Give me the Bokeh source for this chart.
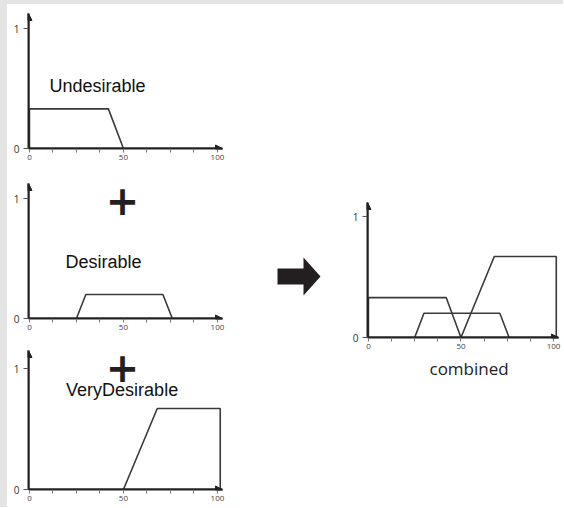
from bokeh.plotting import figure
from bokeh.models import Range1d, FixedTicker, Label, Arrow, NormalHead, Title
from bokeh.layouts import row, column
from bokeh.embed import file_html
from bokeh.resources import INLINE

# ---- data -------------------------------------------------------------
undesirable_x = [0, 0, 42, 50]
undesirable_y = [0, 0.33, 0.33, 0]
desirable_x = [25, 30, 71, 76]
desirable_y = [0, 0.2, 0.2, 0]
very_x = [50, 68, 101.5, 101.5]
very_y = [0, 0.67, 0.67, 0]

x_ticks = [0, 12.5, 25, 37.5, 50, 62.5, 75, 87.5, 100]
x_tick_labels = {0: "0", 50: "50", 100: "100"}
y_ticks = [0, 1]
y_tick_labels = {0: "0", 1: "1"}

AX = "#222222"
LINE = "#3a3a3a"
LINE_W = 1.6
X0 = -0.5
X1 = 102.7


def style(p, y_end):
    p.toolbar_location = None
    p.outline_line_color = None
    p.xgrid.visible = False
    p.ygrid.visible = False
    p.background_fill_color = "white"
    p.border_fill_color = "white"
    xa = p.xaxis[0]
    ya = p.yaxis[0]
    xa.ticker = FixedTicker(ticks=x_ticks)
    xa.major_label_overrides = {t: x_tick_labels.get(t, "") for t in x_ticks}
    xa.axis_line_width = 2
    xa.axis_line_color = AX
    xa.major_tick_in = 0
    xa.major_tick_out = 4
    xa.major_tick_line_color = "#777777"
    xa.minor_tick_line_color = None
    xa.major_label_text_font = "Open Sans"
    xa.major_label_text_font_size = "8px"
    xa.major_label_text_color = "#444444"
    xa.major_label_standoff = 2
    ya.ticker = FixedTicker(ticks=y_ticks)
    ya.major_label_overrides = y_tick_labels
    ya.axis_line_width = 2
    ya.axis_line_color = AX
    ya.major_tick_in = 0
    ya.major_tick_out = 5
    ya.major_tick_line_color = "#555555"
    ya.minor_tick_line_color = None
    ya.major_label_text_font = "Open Sans"
    ya.major_label_text_font_size = "10px"
    ya.major_label_text_color = "#333333"
    ya.major_label_standoff = 4
    # arrow heads at the axis ends
    p.add_layout(Arrow(end=NormalHead(size=7, fill_color=AX, line_color=AX),
                       x_start=X0, y_start=0, x_end=X0, y_end=y_end,
                       line_color=AX, line_width=2))
    p.add_layout(Arrow(end=NormalHead(size=7, fill_color=AX, line_color=AX),
                       x_start=X0, y_start=0, x_end=X1, y_end=0,
                       line_color=AX, line_width=2))


def small(height, btop, bbot, y_end):
    p = figure(width=231, height=height, output_backend="svg", toolbar_location=None,
               x_range=Range1d(X0, X1), y_range=Range1d(0, y_end),
               min_border_left=21, min_border_right=16,
               min_border_top=btop, min_border_bottom=bbot)
    style(p, y_end)
    return p


def label(p, x, y, text, size="18px", font="Liberation Sans", color="#111111", style_="normal"):
    p.add_layout(Label(x=x, y=y, text=text, text_align="center", text_baseline="middle",
                       text_font=font, text_font_size=size, text_color=color,
                       text_font_style=style_))


# ---- left column ------------------------------------------------------
p1 = small(166, 9, 22, 1.125)
p1.line(undesirable_x, undesirable_y, line_color=LINE, line_width=LINE_W)
label(p1, 36.2, 0.517, "Undesirable")

p2 = small(165, 13, 17, 1.125)
p2.line(desirable_x, desirable_y, line_color=LINE, line_width=LINE_W)
label(p2, 39.4, 0.467, "Desirable")
label(p2, 49.5, 0.99, "+", size="40px", font="DejaVu Sans", color="#231f20", style_="bold")

p3 = small(172, 15, 18, 1.149)
p3.line(very_x, very_y, line_color=LINE, line_width=LINE_W)
label(p3, 49.3, 0.82, "VeryDesirable")
label(p3, 49.5, 1.01, "+", size="40px", font="DejaVu Sans", color="#231f20", style_="bold")

left = column(p1, p2, p3, spacing=0, styles={"background-color": "white"})

# ---- middle arrow -----------------------------------------------------
mid_w, mid_h = 88, 503
arrow_start, shaft_end, arrow_tip = 39, 65, 82
arrow_cy, shaft_half, head_half = 231, 8, 19
pm = figure(width=mid_w, height=mid_h, output_backend="svg", toolbar_location=None,
            x_range=Range1d(0, mid_w), y_range=Range1d(0, mid_h),
            min_border_left=0, min_border_right=0, min_border_top=0, min_border_bottom=0,
            x_axis_location=None, y_axis_location=None)
pm.grid.visible = False
pm.outline_line_color = None
pm.background_fill_color = "white"
pm.border_fill_color = "white"
pm.patch([arrow_start, shaft_end, shaft_end, arrow_tip, shaft_end, shaft_end, arrow_start],
         [arrow_cy - shaft_half, arrow_cy - shaft_half, arrow_cy - head_half, arrow_cy,
          arrow_cy + head_half, arrow_cy + shaft_half, arrow_cy + shaft_half],
         fill_color="#231f20", line_color=None)

# ---- combined ---------------------------------------------------------
y_end_r = 1.116
pr = figure(width=237, height=503, output_backend="svg", toolbar_location=None,
            x_range=Range1d(X0, X1), y_range=Range1d(0, y_end_r),
            min_border_left=41, min_border_right=5,
            min_border_top=198, min_border_bottom=170)
style(pr, y_end_r)
pr.line(undesirable_x, undesirable_y, line_color=LINE, line_width=LINE_W)
pr.line(desirable_x, desirable_y, line_color=LINE, line_width=LINE_W)
pr.line(very_x, very_y, line_color=LINE, line_width=LINE_W)
pr.add_layout(Title(text="combined", align="left", offset=62, standoff=6,
                    text_font="Open Sans", text_font_size="17px",
                    text_font_style="normal", text_color="#222222"), "below")

inner = row(left, column(pm, styles={"background-color": "white"}),
            column(pr, styles={"background-color": "white"}),
            spacing=0, styles={"background-color": "white"})
layout = column(inner, styles={"background-color": "#e4e4e4",
                               "padding-left": "7px", "padding-top": "4px"})
open("out.html", "w").write(file_html(layout, INLINE))
